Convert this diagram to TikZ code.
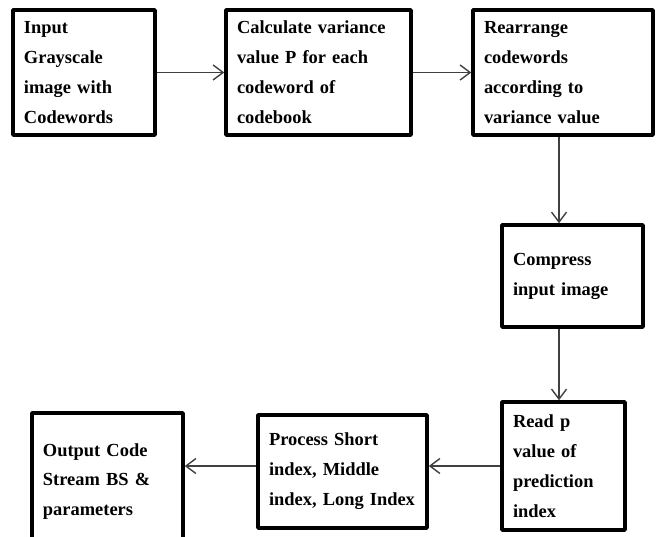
\documentclass[tikz,border=0pt]{standalone}
\usepackage{fontspec}
\setmainfont{Liberation Serif}
\usetikzlibrary{arrows.meta}
\tikzset{
  blk/.style={draw, line width=3.5bp, align=left, inner xsep=11bp, inner ysep=0bp,
    font=\fontsize{18.5}{30}\selectfont\bfseries},
  flow/.style={-{Straight Barb[length=10bp,width=15bp]}, line width=1.4bp, draw=black!75}
}
\begin{document}
\begin{tikzpicture}[x=1bp, y=-1bp, line join=round]
  \useasboundingbox (0,0) rectangle (657,537);
  \clip (0,0) rectangle (657,537);
  % top row
  \node[blk, text width=120bp, minimum height=125bp] (input) at (84,72.5)
    {Input\\Grayscale\\image with\\Codewords};
  \node[blk, text width=163bp, minimum height=125bp] (calc) at (318.5,72.5)
    {Calculate variance\\value P for each\\codeword of\\codebook};
  \node[blk, text width=158bp, minimum height=125bp] (rearr) at (563,72.5)
    {Rearrange\\codewords\\according to\\variance value};
  % right column
  \node[blk, text width=119bp, minimum height=102bp] (comp) at (572.5,276)
    {Compress\\input image};
  \node[blk, text width=101bp, minimum height=128bp] (read) at (563.5,466)
    {Read p\\value of\\prediction\\index};
  % bottom row
  \node[blk, text width=147bp, minimum height=113bp] (proc) at (342.5,471.5)
    {Process Short\\index, Middle\\index, Long Index};
  \node[blk, text width=129bp, minimum height=137bp] (out) at (107.5,481.5)
    {Output Code\\Stream BS \&\\parameters\\[6bp]};
  \coordinate (vx) at (559,0);
  \draw[flow] (input) -- (calc);
  \draw[flow] (calc) -- (rearr);
  \draw[flow] (rearr.south -| vx) -- (comp.north -| vx);
  \draw[flow] (comp.south -| vx) -- (read.north -| vx);
  \draw[flow] (read.west) -- (read.west -| proc.east);
  \draw[flow] (proc.west |- read.west) -- (out.east |- read.west);
\end{tikzpicture}
\end{document}
